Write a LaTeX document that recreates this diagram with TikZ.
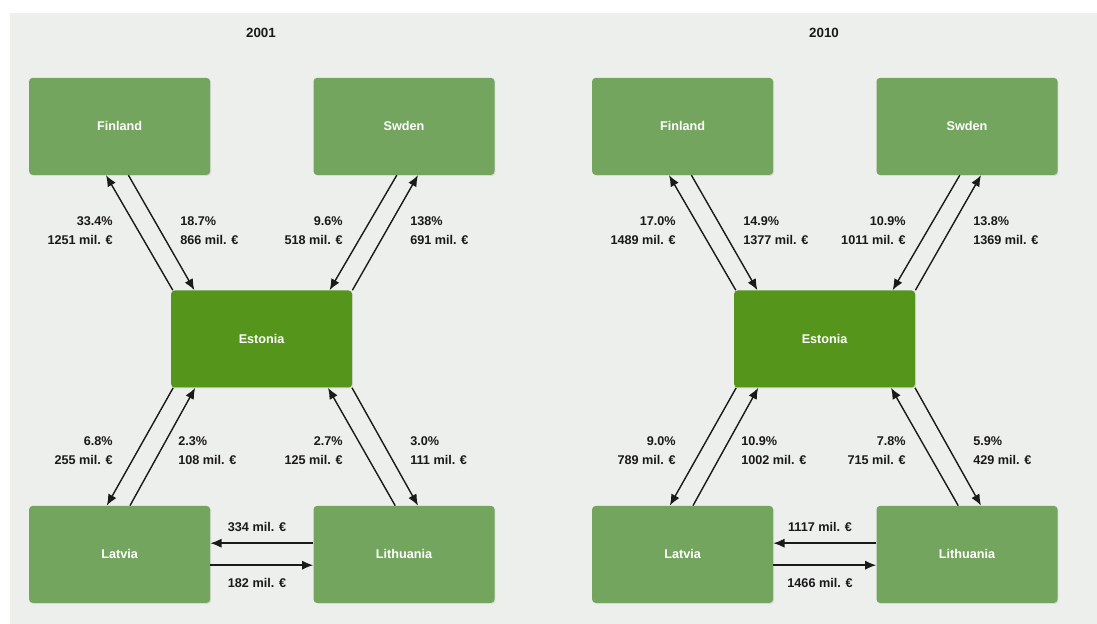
\documentclass[tikz,border=0pt]{standalone}
\usepackage{fontspec}
\setmainfont{Liberation Sans}
\usetikzlibrary{arrows.meta,calc,shadows}
\definecolor{tbgrey}{HTML}{ECEFEB}
\definecolor{tbgreen}{HTML}{74A55F}
\definecolor{tbhub}{HTML}{55951C}
\definecolor{tbink}{HTML}{1A1A1A}
\tikzset{
  country/.style={rectangle,rounded corners=2.5pt,fill=tbgreen,minimum width=4.525cm,minimum height=2.425cm,text=white,font=\bfseries\fontsize{9}{11}\selectfont,drop shadow={opacity=.18,shadow xshift=.7pt,shadow yshift=-.7pt}},
  hub/.style={country,fill=tbhub},
  flow/.style={-{Latex[length=2.8mm,width=2.3mm]},draw=tbink,line width=1pt},
  shareR/.style={anchor=east,align=right,font=\bfseries\fontsize{9}{13.5}\selectfont,text=tbink,inner sep=0pt},
  shareL/.style={shareR,anchor=west,align=left},
  amount/.style={font=\bfseries\fontsize{9}{11}\selectfont,text=tbink,inner sep=0pt},
  year/.style={font=\bfseries\fontsize{9.5}{11}\selectfont,text=tbink},
}

\begin{document}
\begin{tikzpicture}
  \useasboundingbox (0,0) rectangle (27.425,15.6);
  \fill[tbgrey] (0.25,0) rectangle (27.425,15.275);
  % 2001
  \node[year] (y1) at (6.525,14.775) {2001};
  \node[country] (fi1) at (2.99,12.44) {Finland};
  \node[country] (se1) at (10.1,12.44) {Swden};
  \node[hub] (ee1) at (6.54,7.125) {Estonia};
  \node[country] (lv1) at (2.99,1.74) {Latvia};
  \node[country] (lt1) at (10.1,1.74) {Lithuania};
  \draw[flow] ($(ee1.north)+(-2.22,0)$) -- ($(fi1.south)+(-.34,0)$);
  \draw[flow] ($(fi1.south)+(.22,0)$) -- ($(ee1.north)+(-1.68,0)$);
  \draw[flow] ($(se1.south)+(-.18,0)$) -- ($(ee1.north)+(1.7,0)$);
  \draw[flow] ($(ee1.north)+(2.27,0)$) -- ($(se1.south)+(.35,0)$);
  \draw[flow] ($(ee1.south)+(-2.21,0)$) -- ($(lv1.north)+(-.32,0)$);
  \draw[flow] ($(lv1.north)+(.26,0)$) -- ($(ee1.south)+(-1.66,0)$);
  \draw[flow] ($(lt1.north)+(-.22,0)$) -- ($(ee1.south)+(1.66,0)$);
  \draw[flow] ($(ee1.south)+(2.26,0)$) -- ($(lt1.north)+(.35,0)$);
  \draw[flow] ($(lt1.west)+(0,.28)$) -- ($(lv1.east)+(0,.28)$);
  \draw[flow] ($(lv1.east)+(0,-.27)$) -- ($(lt1.west)+(0,-.27)$);
  \node[shareR] (a1) at (2.825,9.84) {33.4\%\\1251 mil. €};
  \node[shareL] (b1) at (4.5,9.84) {18.7\%\\866 mil. €};
  \node[shareR] (c1) at (8.575,9.84) {9.6\%\\518 mil. €};
  \node[shareL] (d1) at (10.25,9.84) {138\%\\691 mil. €};
  \node[shareR] (e1) at (2.825,4.325) {6.8\%\\255 mil. €};
  \node[shareL] (f1) at (4.45,4.325) {2.3\%\\108 mil. €};
  \node[shareR] (g1) at (8.575,4.325) {2.7\%\\125 mil. €};
  \node[shareL] (h1) at (10.25,4.325) {3.0\%\\111 mil. €};
  \node[amount] (m1) at (6.425,2.425) {334 mil. €};
  \node[amount] (n1) at (6.425,1.025) {182 mil. €};
  % 2010
  \node[year] (y2) at (20.6,14.775) {2010};
  \node[country] (fi2) at (17.065,12.44) {Finland};
  \node[country] (se2) at (24.175,12.44) {Swden};
  \node[hub] (ee2) at (20.615,7.125) {Estonia};
  \node[country] (lv2) at (17.065,1.74) {Latvia};
  \node[country] (lt2) at (24.175,1.74) {Lithuania};
  \draw[flow] ($(ee2.north)+(-2.22,0)$) -- ($(fi2.south)+(-.34,0)$);
  \draw[flow] ($(fi2.south)+(.22,0)$) -- ($(ee2.north)+(-1.68,0)$);
  \draw[flow] ($(se2.south)+(-.18,0)$) -- ($(ee2.north)+(1.7,0)$);
  \draw[flow] ($(ee2.north)+(2.27,0)$) -- ($(se2.south)+(.35,0)$);
  \draw[flow] ($(ee2.south)+(-2.21,0)$) -- ($(lv2.north)+(-.32,0)$);
  \draw[flow] ($(lv2.north)+(.26,0)$) -- ($(ee2.south)+(-1.66,0)$);
  \draw[flow] ($(lt2.north)+(-.22,0)$) -- ($(ee2.south)+(1.66,0)$);
  \draw[flow] ($(ee2.south)+(2.26,0)$) -- ($(lt2.north)+(.35,0)$);
  \draw[flow] ($(lt2.west)+(0,.28)$) -- ($(lv2.east)+(0,.28)$);
  \draw[flow] ($(lv2.east)+(0,-.27)$) -- ($(lt2.west)+(0,-.27)$);
  \node[shareR] (a2) at (16.9,9.84) {17.0\%\\1489 mil. €};
  \node[shareL] (b2) at (18.575,9.84) {14.9\%\\1377 mil. €};
  \node[shareR] (c2) at (22.65,9.84) {10.9\%\\1011 mil. €};
  \node[shareL] (d2) at (24.325,9.84) {13.8\%\\1369 mil. €};
  \node[shareR] (e2) at (16.9,4.325) {9.0\%\\789 mil. €};
  \node[shareL] (f2) at (18.525,4.325) {10.9\%\\1002 mil. €};
  \node[shareR] (g2) at (22.65,4.325) {7.8\%\\715 mil. €};
  \node[shareL] (h2) at (24.325,4.325) {5.9\%\\429 mil. €};
  \node[amount] (m2) at (20.5,2.425) {1117 mil. €};
  \node[amount] (n2) at (20.5,1.025) {1466 mil. €};
\end{tikzpicture}
\end{document}
